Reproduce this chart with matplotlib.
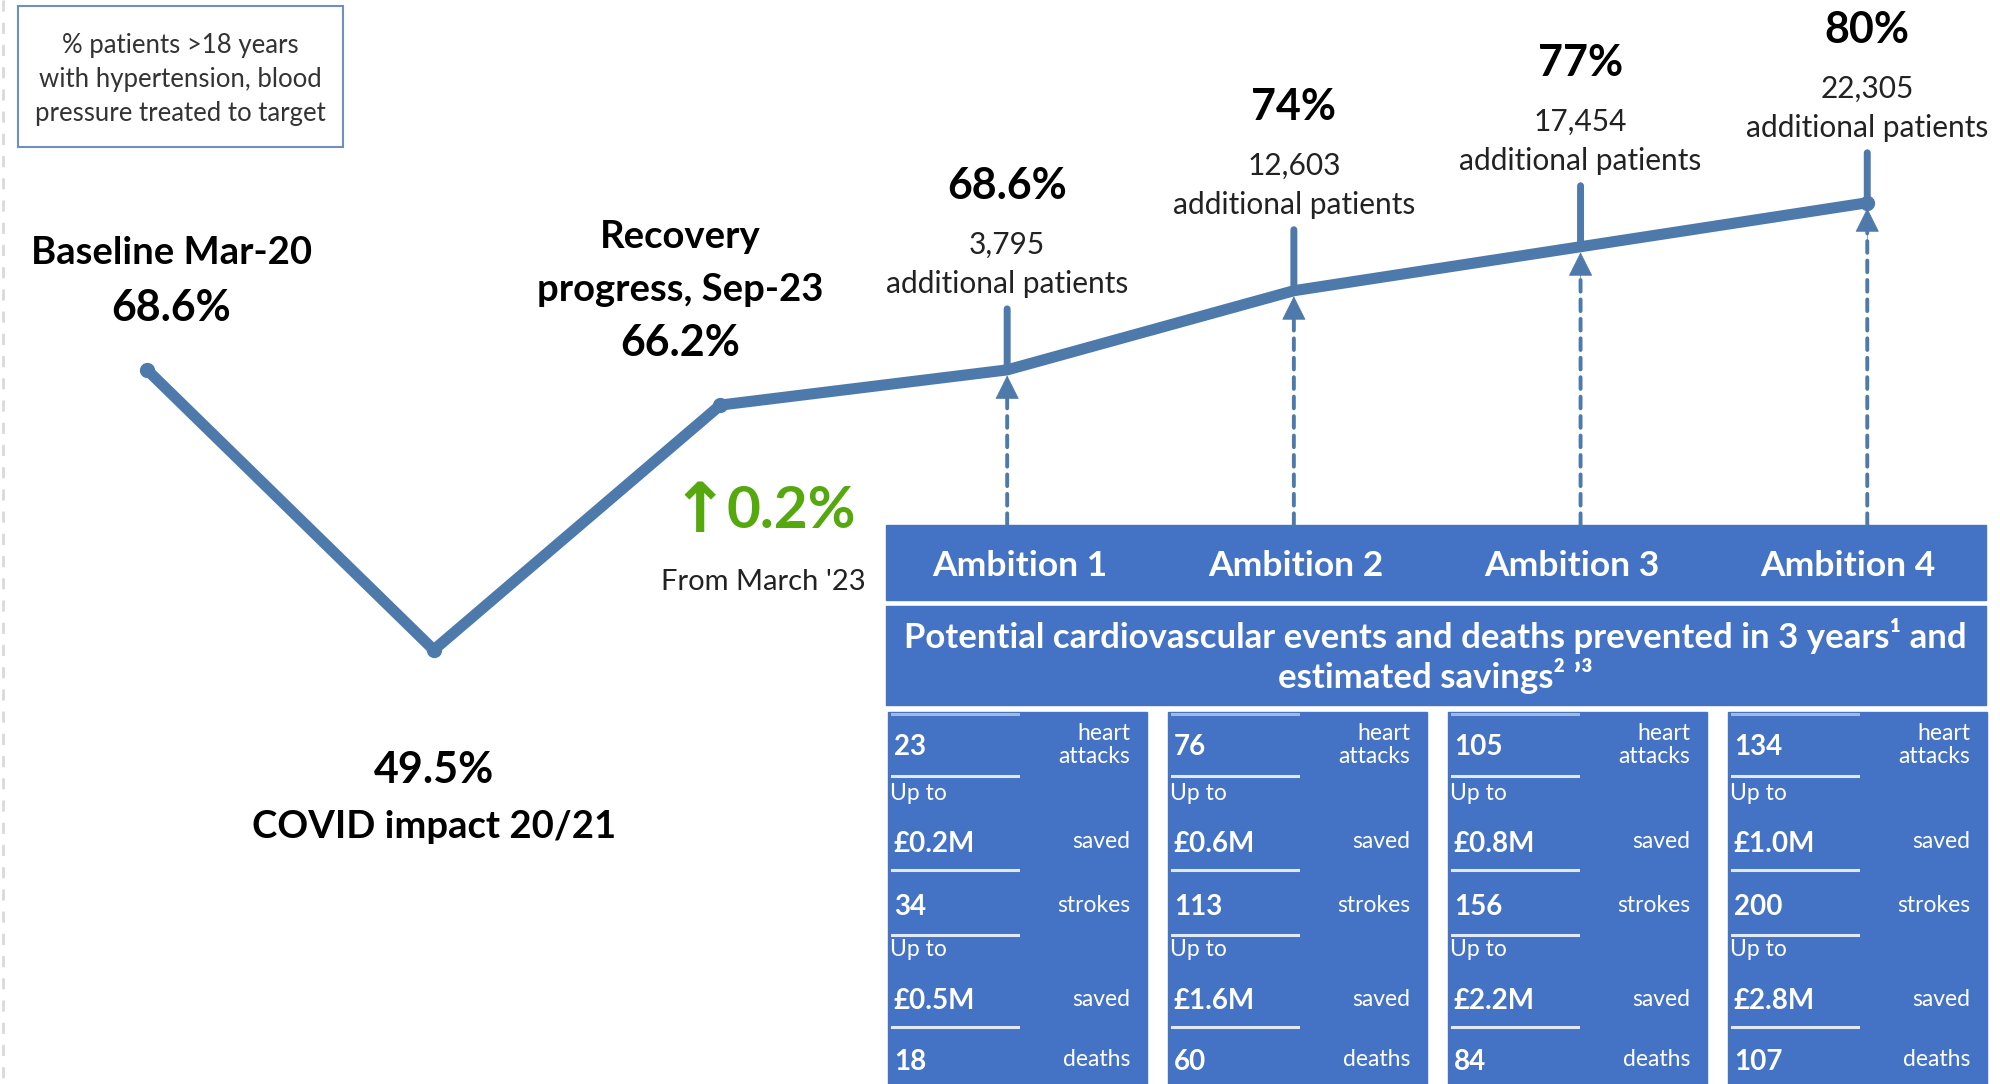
import matplotlib
matplotlib.use("Agg")
import matplotlib.pyplot as plt
from matplotlib.patches import Rectangle
from matplotlib.lines import Line2D
from matplotlib.transforms import blended_transform_factory

plt.rcParams['font.family'] = ['Lato', 'DejaVu Sans']

# ---- data ----
stages = ['Baseline Mar-20', 'COVID impact 20/21', 'Recovery\nprogress, Sep-23',
          'Ambition 1', 'Ambition 2', 'Ambition 3', 'Ambition 4']
pct = [68.6, 49.5, 66.2, 68.6, 74, 77, 80]
ambitions = ['Ambition 1', 'Ambition 2', 'Ambition 3', 'Ambition 4']
additional_patients = [3795, 12603, 17454, 22305]
heart_attacks = [23, 76, 105, 134]
heart_savings_m = [0.2, 0.6, 0.8, 1.0]
strokes = [34, 113, 156, 200]
stroke_savings_m = [0.5, 1.6, 2.2, 2.8]
deaths = [18, 60, 84, 107]
change_from_mar23 = 0.2
legend_text = "% patients >18 years\nwith hypertension, blood\npressure treated to target"
table_title = "Potential cardiovascular events and deaths prevented in 3 years\u00b9 and\nestimated savings\u00b2 \u2019\u00b3"

LINE = "#4e7aab"
BOX = "#4472c4"
GREEN = "#56a80f"

W, H = 2000, 1084
fig = plt.figure(figsize=(W / 100, H / 100), dpi=100, facecolor="white")

# main chart axes covers the whole figure
ax = fig.add_axes([0, 0, 1, 1])
ax.set_xlim(-0.513, 6.463)
ax.set_ylim(19.89, 93.83)
ax.axis("off")

# overlay in pixel coordinates for boxes and notes
ov = fig.add_axes([0, 0, 1, 1], zorder=0)
ov.set_xlim(0, W)
ov.set_ylim(H, 0)
ov.axis("off")
ax.set_zorder(1)
ax.patch.set_visible(False)

x = list(range(len(pct)))
ax.plot(x, pct, color=LINE, lw=8, solid_joinstyle="round", solid_capstyle="round", zorder=3)
ax.plot([x[0], x[1], x[2], x[6]], [pct[0], pct[1], pct[2], pct[6]], "o",
        color=LINE, ms=10, zorder=4)

# left side labels
ax.annotate("Baseline Mar-20", (0, pct[0]), xytext=(24, 117), textcoords="offset pixels",
            ha="center", va="center", fontsize=27.5, fontweight="bold")
ax.annotate(f"{pct[0]:g}%", (0, pct[0]), xytext=(24, 62), textcoords="offset pixels",
            ha="center", va="center", fontsize=31, fontweight="bold")
ax.annotate("Recovery", (2, pct[2]), xytext=(-40, 168), textcoords="offset pixels",
            ha="center", va="center", fontsize=27.5, fontweight="bold")
ax.annotate("progress, Sep-23", (2, pct[2]), xytext=(-40, 115), textcoords="offset pixels",
            ha="center", va="center", fontsize=27.5, fontweight="bold")
ax.annotate(f"{pct[2]:g}%", (2, pct[2]), xytext=(-40, 62), textcoords="offset pixels",
            ha="center", va="center", fontsize=31, fontweight="bold")
ov.text(434, 770, f"{pct[1]:g}%", ha="center", va="center", fontsize=31, fontweight="bold")
ov.text(434, 827, stages[1], ha="center", va="center", fontsize=27.5, fontweight="bold")

# change since March '23
ov.text(700, 512, "\u2191", ha="center", va="center", fontsize=50, color=GREEN,
        fontweight="bold", family="DejaVu Sans")
ov.text(727, 512, f"{change_from_mar23:g}%", ha="left", va="center", fontsize=42,
        color=GREEN, fontweight="bold")
ov.text(763, 582, "From March '23", ha="center", va="center", fontsize=21, color="#222222")

# ambition labels, ticks and dashed arrows
table_top = 525
trans = blended_transform_factory(ax.transData, fig.transFigure)
lift = [0, 0, 0, -11]  # last label group sits a little closer to its point
for j, n in enumerate(additional_patients):
    i = 3 + j
    v = pct[i]
    d = lift[j]
    ax.annotate(f"{v:g}%", (i, v), xytext=(0, 184 + d), textcoords="offset pixels",
                ha="center", va="center", fontsize=31, fontweight="bold")
    ax.annotate(f"{n:,}", (i, v), xytext=(0, 125 + d), textcoords="offset pixels",
                ha="center", va="center", fontsize=21.5, color="#222222")
    ax.annotate("additional patients", (i, v), xytext=(0, 86 + d), textcoords="offset pixels",
                ha="center", va="center", fontsize=21.5, color="#222222")
    ax.annotate("", xy=(i, v), xytext=(0, 61 + d), textcoords="offset pixels",
                arrowprops=dict(arrowstyle="-", color=LINE, lw=5, shrinkA=0, shrinkB=0),
                zorder=2)
    # dashed shaft from the table up to the point
    ax.annotate("", xy=(i, v), xytext=(i, 1 - table_top / H), textcoords=trans,
                arrowprops=dict(arrowstyle="-", color=LINE, lw=2.8,
                                linestyle=(0, (3, 2)), shrinkA=0, shrinkB=20),
                zorder=2)
    # solid arrow head
    ax.annotate("", xy=(i, v), xytext=(0, -40), textcoords="offset pixels",
                arrowprops=dict(arrowstyle="-|>,head_length=0.4,head_width=0.2",
                                mutation_scale=40, color=LINE, lw=0.5,
                                shrinkA=0, shrinkB=4),
                zorder=2)

# legend box
ov.add_patch(Rectangle((18, 6), 325, 141, facecolor="white", edgecolor="#6f8fc0", lw=1.5))
ov.text(180, 79, legend_text, ha="center", va="center", fontsize=18.5,
        color="#333333", linespacing=1.45)

# faint dashed line at the left edge
ov.add_line(Line2D([3, 3], [0, H], color="#d9d9d9", lw=2, ls=(0, (4, 4))))

# table headers
ov.add_patch(Rectangle((886, table_top), 1100, 75, color=BOX))
for j, name in enumerate(ambitions):
    ov.text(1020 + j * 276, 566, name, ha="center", va="center", fontsize=25.5,
            fontweight="bold", color="white")
ov.add_patch(Rectangle((886, 606), 1100, 99, color=BOX))
ov.text(1435, 656, table_title, ha="center", va="center", fontsize=25,
        fontweight="bold", color="white", linespacing=1.1)

# table columns
col_left = [888, 1168, 1448, 1728]
col_w = 259
for j, cl in enumerate(col_left):
    ov.add_patch(Rectangle((cl, 712), col_w, H - 712 + 5, color=BOX))
    for yl in [714, 776, 870, 935, 1027]:
        ov.add_line(Line2D([cl + 4, cl + 130], [yl, yl], color="white", lw=2.2,
                           alpha=0.85 if yl != 714 else 0.5))
    rows = [
        (747, f"{heart_attacks[j]}", "heart\nattacks"),
        (844, f"\u00a3{heart_savings_m[j]:.1f}M", "saved"),
        (907, f"{strokes[j]}", "strokes"),
        (1001, f"\u00a3{stroke_savings_m[j]:.1f}M", "saved"),
        (1062, f"{deaths[j]}", "deaths"),
    ]
    for y, val, lab in rows:
        ov.text(cl + 6, y, val, ha="left", va="center", fontsize=20,
                fontweight="bold", color="white")
        ov.text(cl + 242, y - 2, lab, ha="right", va="center", fontsize=16.5,
                color="white", linespacing=1.15)
    for y in [793, 950]:
        ov.text(cl + 2, y, "Up to", ha="left", va="center", fontsize=16.5, color="white")

fig.savefig("out.png", dpi=100, facecolor="white")
